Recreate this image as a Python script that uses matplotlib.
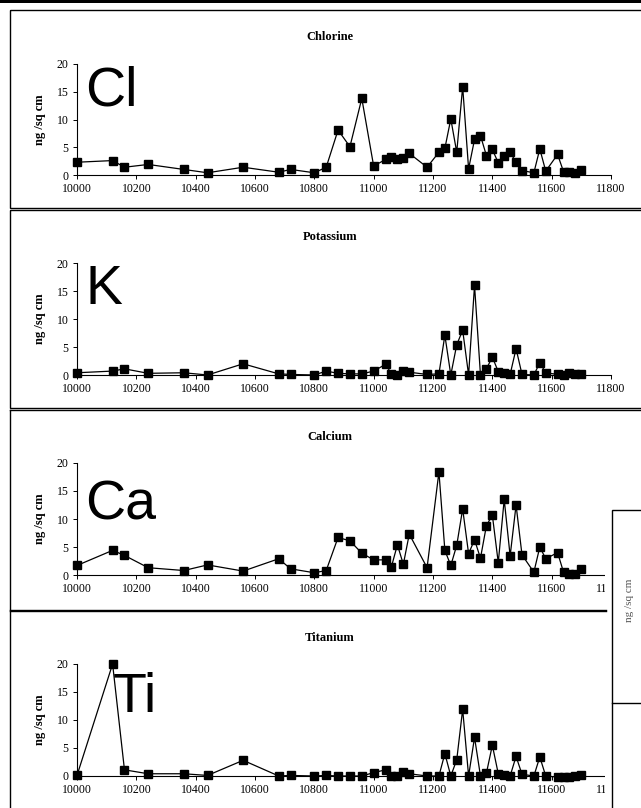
import matplotlib
matplotlib.use('Agg')

import matplotlib.pyplot as plt
from matplotlib.patches import Rectangle

#######################################################################
# data

depth = [10000, 10120, 10160, 10240, 10360, 10440, 10560, 10680, 10720, 10800,
         10840, 10880, 10920, 10960, 11000, 11040, 11060, 11080, 11100, 11120,
         11180, 11220, 11240, 11260, 11280, 11300, 11320, 11340, 11360, 11380,
         11400, 11420, 11440, 11460, 11480, 11500, 11540, 11560, 11580, 11620,
         11640, 11660, 11680, 11700]

chlorine = [2.3, 2.6, 1.4, 1.9, 1.0, 0.4, 1.4, 0.5, 1.0, 0.4,
            1.4, 8.1, 5.1, 13.8, 1.6, 2.8, 3.2, 2.8, 3.1, 3.9,
            1.4, 4.1, 4.8, 10.1, 4.1, 15.9, 1.1, 6.4, 7.1, 3.5,
            4.6, 2.2, 3.4, 4.1, 2.3, 0.8, 0.4, 4.7, 0.7, 3.7,
            0.6, 0.5, 0.4, 0.9]

potassium = [0.4, 0.7, 1.1, 0.3, 0.4, 0.0, 2.0, 0.2, 0.1, 0.0,
             0.7, 0.3, 0.2, 0.2, 0.7, 1.9, 0.2, 0.0, 0.8, 0.5,
             0.1, 0.2, 7.1, 0.0, 5.4, 8.0, 0.0, 16.0, 0.0, 1.1,
             3.2, 0.6, 0.4, 0.1, 4.7, 0.1, 0.0, 2.2, 0.4, 0.1,
             0.0, 0.3, 0.1, 0.1]

calcium = [1.7, 4.4, 3.5, 1.3, 0.8, 1.8, 0.7, 2.9, 1.1, 0.4,
           0.8, 6.7, 6.1, 3.9, 2.7, 2.7, 1.5, 5.4, 1.9, 7.3,
           1.3, 18.4, 4.4, 1.7, 5.3, 11.8, 3.8, 6.3, 3.0, 8.8,
           10.7, 2.2, 13.5, 3.4, 12.5, 3.6, 0.5, 5.0, 2.9, 4.0,
           0.5, 0.1, 0.1, 1.0]

titanium = [0.1, 20.0, 1.1, 0.4, 0.4, 0.1, 2.8, 0.0, 0.1, 0.0,
            0.1, 0.0, 0.0, 0.0, 0.6, 1.1, 0.0, 0.0, 0.7, 0.4,
            0.0, 0.0, 4.0, 0.0, 2.9, 11.9, 0.0, 6.9, 0.0, 0.5,
            5.5, 0.4, 0.1, 0.0, 3.5, 0.3, 0.0, 3.4, 0.0, -0.2,
            -0.1, -0.1, 0.0, 0.1]

titles = ["Chlorine", "Potassium", "Calcium", "Titanium"]
symbols = ["Cl", "K", "Ca", "Ti"]
series = [chlorine, potassium, calcium, titanium]

xticks = list(range(10000, 11801, 200))
yticks = [0, 5, 10, 15, 20]

#######################################################################
W, H = 641, 808
SERIF = "Liberation Serif"
SANS = "Liberation Sans"


def frac(x0, y0, x1, y1):
    # pixel box (top-left origin) -> figure fraction rect
    return [x0 / W, 1 - y1 / H, (x1 - x0) / W, (y1 - y0) / H]


fig = plt.figure(figsize=(W / 100, H / 100), dpi=100)
fig.patch.set_facecolor("white")

# panel layout in pixels: (box top, box bottom, y of 0, y of 20)
panels = [(10, 208, 175, 64), (210, 408, 375, 263),
          (410, 610, 575, 463), (611, 812, 776, 664)]
sym_pos = [(85, 92), (86, 290), (85, 505), (113, 698)]

for i, (top, bot, y0, y20) in enumerate(panels):
    ax = fig.add_axes(frac(77, y20, 611, y0))
    ax.plot(depth, series[i], color="black", lw=0.9, marker="s",
            ms=5.2, mfc="black", mec="black", clip_on=False)
    ax.set_xlim(10000, 11800)
    ax.set_ylim(0, 20)
    ax.set_xticks(xticks)
    ax.set_yticks(yticks)
    ax.spines["top"].set_visible(False)
    ax.spines["right"].set_visible(False)
    for s in ("left", "bottom"):
        ax.spines[s].set_linewidth(0.8)
    ax.tick_params(direction="out", length=3, width=0.7, labelsize=8.5, pad=3)
    for lab in ax.get_xticklabels() + ax.get_yticklabels():
        lab.set_fontfamily(SERIF)
    ax.set_ylabel("ng /sq cm", fontfamily=SERIF, fontweight="bold",
                  fontsize=9, labelpad=8)
    ax.patch.set_alpha(0)

# overlay in pixel space: panel frames, titles, symbols, scan edges
ov = fig.add_axes([0, 0, 1, 1], zorder=10)
ov.set_xlim(0, W)
ov.set_ylim(H, 0)
ov.axis("off")
ov.patch.set_alpha(0)

for i, (top, bot, y0, y20) in enumerate(panels):
    ov.text(330, top + 27, titles[i], ha="center", va="center",
            fontfamily=SERIF, fontweight="bold", fontsize=9)
    sx, sy = sym_pos[i]
    ov.text(sx, sy, symbols[i], ha="left", va="center",
            fontfamily=SANS, fontsize=40)

# the lower panels are cut off on the right by another page piece
ov.add_patch(Rectangle((605, 440), 50, 380, fc="white", ec="none"))

# panel frames
for top, bot in [(10, 208), (210, 408)]:
    ov.add_patch(Rectangle((10, top), 640, bot - top, fill=False,
                           ec="black", lw=1.0))
ov.plot([10, 641], [410, 410], color="black", lw=1.0)
ov.plot([10, 10], [410, 610], color="black", lw=1.0)
ov.plot([10, 606], [610, 610], color="black", lw=1.0)
ov.plot([10, 606], [611, 611], color="black", lw=1.0)
ov.plot([10, 10], [611, 808], color="black", lw=1.0)

ov.add_patch(Rectangle((612, 510), 40, 320, fc="white", ec="black", lw=1.0))
ov.plot([612, 641], [703, 703], color="black", lw=1.0)
ov.text(630, 600, "ng /sq cm", rotation=90, ha="center", va="center",
        fontfamily=SERIF, fontsize=8, color="#555555")

# dark scan edge along the top
ov.add_patch(Rectangle((0, 0), W, 3, fc="black", ec="none"))

fig.savefig("out.png", dpi=100)
